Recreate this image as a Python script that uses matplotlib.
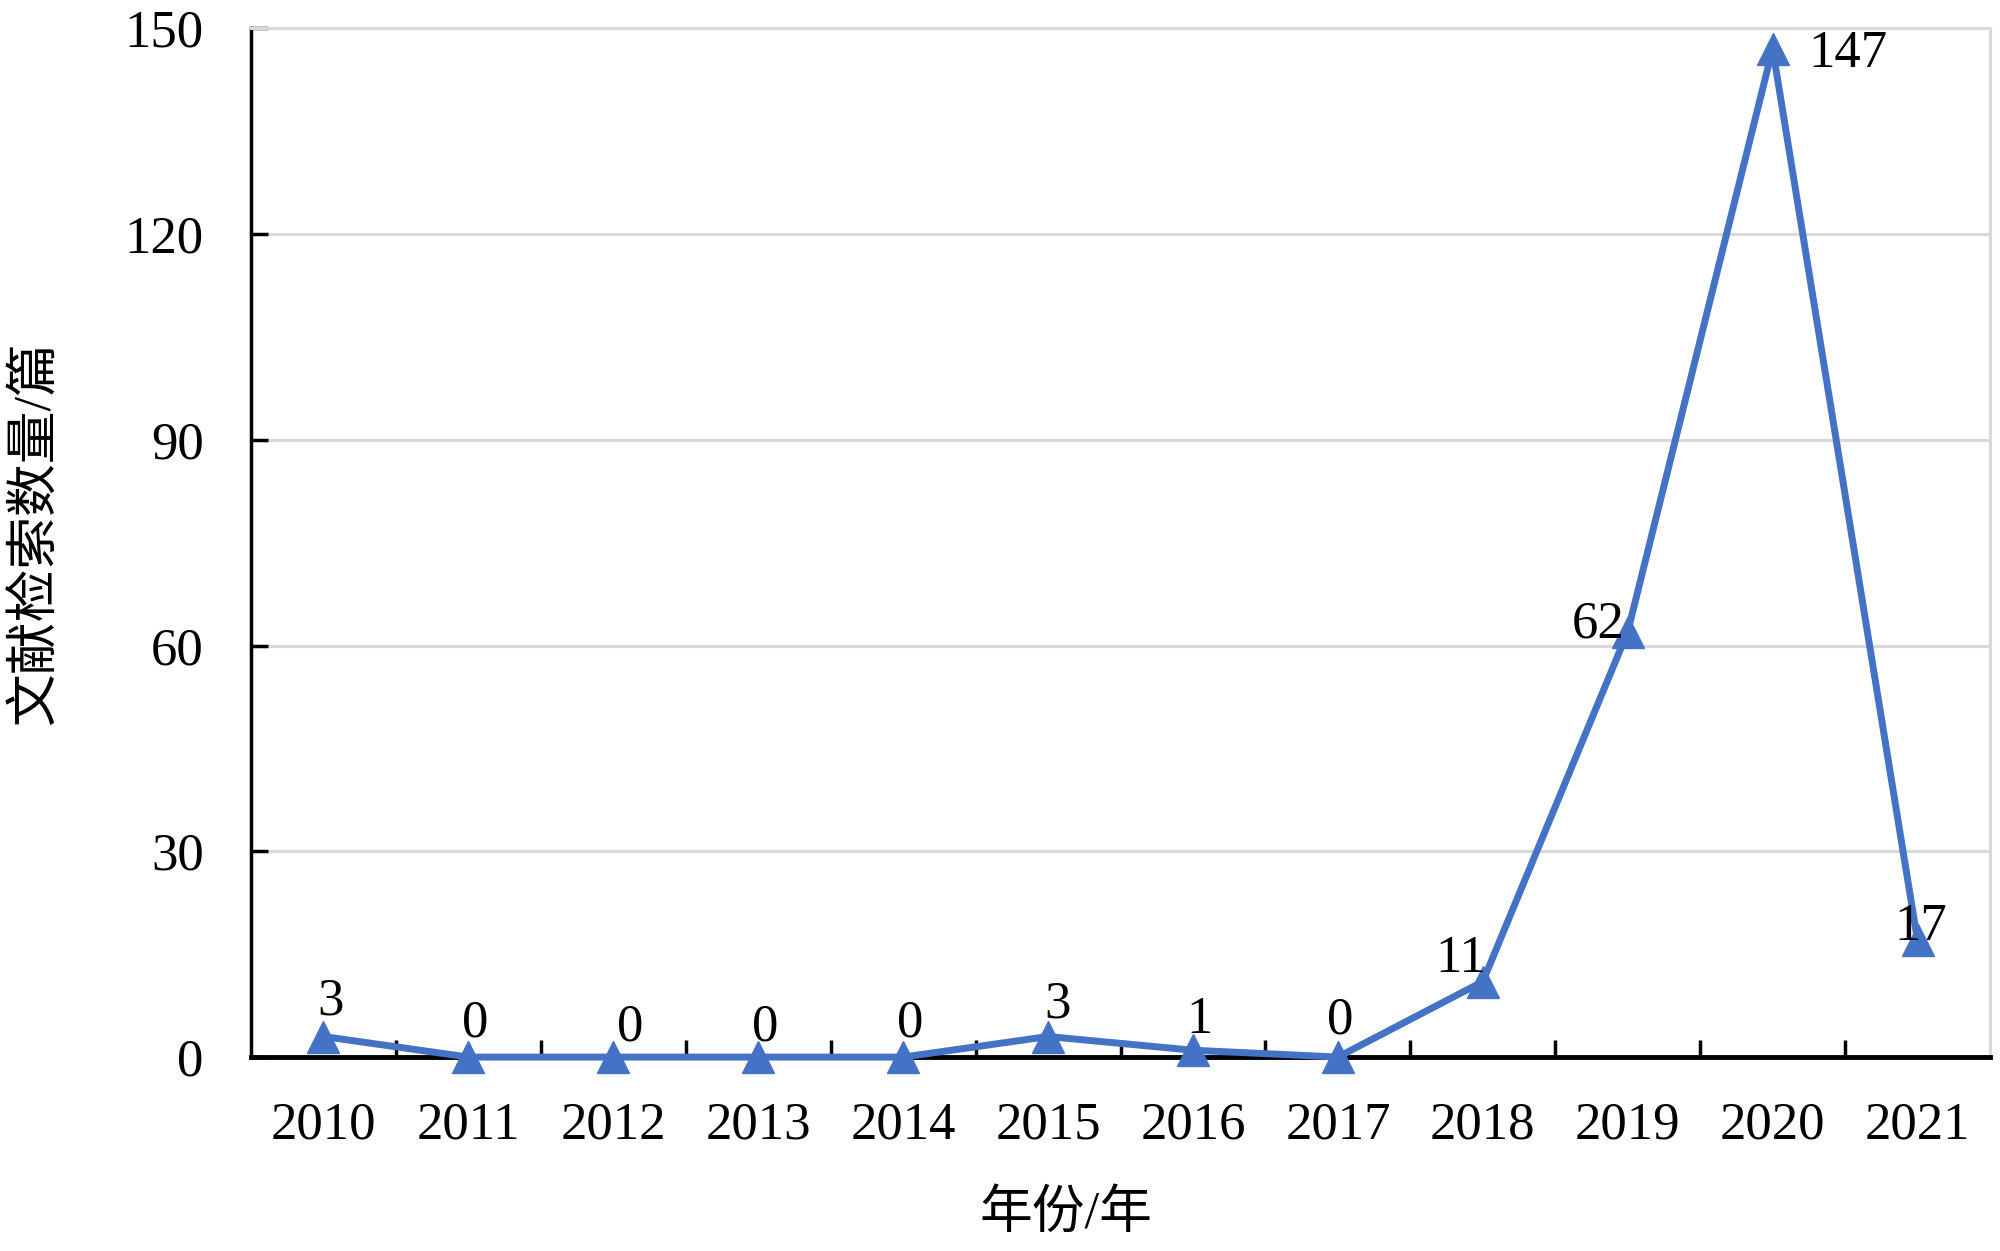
import matplotlib
matplotlib.use("Agg")
import matplotlib.pyplot as plt
from matplotlib.ticker import MultipleLocator

plt.rcParams["font.family"] = ["Liberation Serif", "Noto Sans CJK SC"]

years = ["2010", "2011", "2012", "2013", "2014", "2015",
         "2016", "2017", "2018", "2019", "2020", "2021"]
counts = [3, 0, 0, 0, 0, 3, 1, 0, 11, 62, 147, 17]

# label offsets in points (dx, dy), per point
label_offsets = [(5, 25), (5, 24), (12, 21), (5, 21), (5, 24), (7, 23),
                 (5, 22), (2, 26), (-16, 16), (-21, 5), (54, -4), (2, 10)]

blue = "#4472C4"

fig = plt.figure(figsize=(20, 12.51), dpi=100)
ax = fig.add_axes([0.1255, 0.155, 0.8695, 0.8225])

x = list(range(len(years)))
ax.plot(x, counts, color=blue, linewidth=5, marker="^", markersize=23,
        zorder=3, clip_on=False)

for i, v in enumerate(counts):
    dx, dy = label_offsets[i]
    ax.annotate(str(v), (x[i], v), xytext=(dx, dy), textcoords="offset points",
                ha="center", va="center", fontsize=38, zorder=4)

ax.set_xlim(-0.5, len(years) - 0.5)
ax.set_ylim(0, 150)
ax.set_xticks(x)
ax.set_xticklabels(years)
ax.set_xticks([i + 0.5 for i in range(len(years) - 1)], minor=True)
ax.yaxis.set_major_locator(MultipleLocator(30))

ax.tick_params(axis="x", which="major", length=0, pad=32, labelsize=38)
ax.tick_params(axis="x", which="minor", direction="in", length=12, width=2.5)
ax.tick_params(axis="y", direction="in", length=12, width=2.5, pad=34,
               labelsize=38)

ax.grid(axis="y", color="#D9D9D9", linewidth=2.2, zorder=0)
ax.set_axisbelow(True)

for side in ["top", "right"]:
    ax.spines[side].set_color("#D9D9D9")
    ax.spines[side].set_linewidth(2.2)
for side in ["left", "bottom"]:
    ax.spines[side].set_color("black")
    ax.spines[side].set_linewidth(2.5)
ax.spines["bottom"].set_linewidth(3.5)

fig.text(0.533, 0.029, "年份/年", ha="center", va="center", fontsize=38)
fig.text(0.018, 0.574, "文献检索数量/篇", ha="center", va="center",
         rotation=90, fontsize=38)

fig.savefig("out.png", dpi=100)
